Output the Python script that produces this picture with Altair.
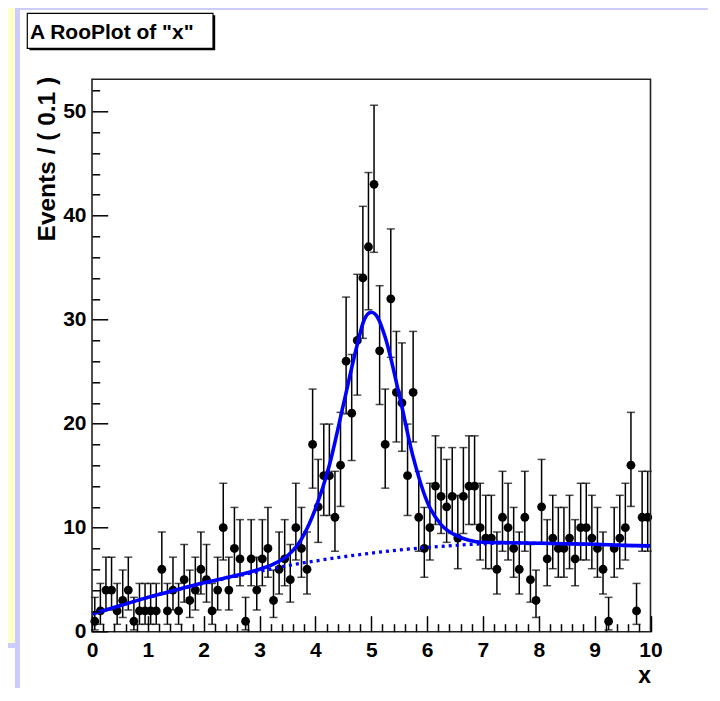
import math
import altair as alt
import pandas as pd

# ---------------- data ----------------
BIN_WIDTH = 0.1
COUNTS = [1, 2, 4, 4, 2, 3, 4, 1, 2, 2, 2, 2, 6, 2, 4, 2, 5, 3, 4, 6,
          5, 2, 4, 10, 4, 8, 7, 1, 7, 4, 7, 8, 3, 6, 7, 5, 10, 8, 6, 18,
          12, 15, 15, 11, 16, 26, 21, 28, 34, 37, 43, 27, 18, 32, 23, 22, 15, 23, 11, 8,
          10, 14, 13, 12, 13, 9, 13, 14, 14, 10, 9, 9, 6, 11, 10, 8, 6, 11, 5, 3,
          12, 7, 9, 8, 8, 9, 7, 10, 10, 9, 8, 6, 1, 8, 9, 10, 16, 2, 11, 11]
BIN_CENTERS = [round((i + 0.5) * BIN_WIDTH, 3) for i in range(len(COUNTS))]

TOTAL_X = [0, 0.5, 1, 1.5, 2, 2.5, 3, 3.25, 3.5, 3.75, 4, 4.25, 4.5, 4.75, 4.875, 5,
           5.125, 5.25, 5.5, 5.75, 6, 6.25, 6.5, 6.75, 7, 7.5, 8, 8.5, 9, 9.5, 10]
TOTAL_Y = [1.7, 2.5, 3.3, 4.0, 4.7, 5.3, 6.0, 6.5, 7.3, 8.9, 11.8, 16.0, 21.8, 27.6, 30.0, 30.7,
           30.1, 28.3, 22.8, 16.8, 12.5, 10.3, 9.3, 8.8, 8.6, 8.55, 8.5, 8.45, 8.4, 8.3, 8.25]

BKG_X = [0, 0.5, 1, 1.5, 2, 2.5, 3, 3.5, 4, 4.5, 5, 5.5, 6, 6.5, 7, 7.5, 8, 8.5, 9, 9.5, 10]
BKG_Y = [1.7, 2.5, 3.3, 4.0, 4.65, 5.25, 5.8, 6.35, 6.8, 7.2, 7.55, 7.85, 8.1, 8.3, 8.45,
         8.55, 8.5, 8.45, 8.4, 8.3, 8.25]

X_MAJOR_TICKS = [0, 1, 2, 3, 4, 5, 6, 7, 8, 9, 10]
X_MINOR_TICKS = [round(k * 0.2, 1) for k in range(51) if k % 5 != 0]
Y_MAJOR_TICKS = [0, 10, 20, 30, 40, 50]
Y_MINOR_TICKS = [v for v in range(2, 54, 2) if v % 10 != 0]

TITLE_TEXT = 'A RooPlot of "x"'
X_TITLE = "x"
Y_TITLE = "Events / ( 0.1 )"

# ------------- Poisson 68% central intervals for the error bars -------------
ALPHA = (1 - math.erf(1 / math.sqrt(2))) / 2


def pois_cdf(k, mu):
    term = math.exp(-mu)
    s = term
    for i in range(1, k + 1):
        term *= mu / i
        s += term
    return s


def bisect(f, lo, hi):
    for _ in range(80):
        mid = 0.5 * (lo + hi)
        if f(mid) > 0:
            lo = mid
        else:
            hi = mid
    return 0.5 * (lo + hi)


def interval(n):
    up = bisect(lambda mu: pois_cdf(n, mu) - ALPHA, float(n), n + 10 * math.sqrt(n + 1) + 10)
    if n == 0:
        return 0.0, up
    lo = bisect(lambda mu: pois_cdf(n - 1, mu) - (1 - ALPHA), 0.0, float(n))
    return lo, up


los, his = zip(*[interval(n) for n in COUNTS])
data = pd.DataFrame({"x": BIN_CENTERS, "n": COUNTS, "lo": los, "hi": his})
total = pd.DataFrame({"x": TOTAL_X, "y": TOTAL_Y})
bkg = pd.DataFrame({"x": BKG_X, "y": BKG_Y})
ONE = pd.DataFrame({"k": [0]})

# ---------------- layout ----------------
W, H = 558.5, 552.4
FONT = "Liberation Sans"
XSCALE = alt.Scale(domain=[0, 10], nice=False, zero=False)
YSCALE = alt.Scale(domain=[0, 53.1], nice=False, zero=False)
BLUE = "#0000ff"
YELLOW = "#ffffcc"
LAVENDER = "#ccccff"

common_axis = dict(grid=False, domain=False, zindex=2, tickColor="black", tickWidth=1.5)

AX_X_MAJOR = alt.Axis(orient="bottom", values=X_MAJOR_TICKS, offset=-16, tickSize=16,
                      labelFont=FONT, labelFontWeight="bold", labelFontSize=21, labelColor="black",
                      labelPadding=8, labelFlush=False, labelOverlap=False, format="d",
                      title=X_TITLE, titleFont=FONT, titleFontWeight="bold", titleFontSize=23,
                      titleColor="black", titleAlign="right", titleBaseline="alphabetic",
                      titleX=W, titleY=67, **common_axis)
AX_X_MINOR = alt.Axis(orient="bottom", values=X_MINOR_TICKS, offset=-8, tickSize=8,
                      labels=False, title="", **common_axis)
AX_Y_MAJOR = alt.Axis(orient="left", values=Y_MAJOR_TICKS, offset=-15.7, tickSize=15.7,
                      labelFont=FONT, labelFontWeight="bold", labelFontSize=21, labelColor="black",
                      labelPadding=6, labelFlush=False, labelOverlap=False, format="d",
                      title=Y_TITLE, titleFont=FONT, titleFontWeight="bold", titleFontSize=24.5,
                      titleColor="black", titleAngle=270, titleAlign="right",
                      titleBaseline="alphabetic", titleX=-53.4, titleY=-3, **common_axis)
AX_Y_MINOR = alt.Axis(orient="left", values=Y_MINOR_TICKS, offset=-7.7, tickSize=7.7,
                      labels=False, title="", **common_axis)


def deco_rect(x1, y1, x2, y2, **style):
    return alt.Chart(ONE).mark_rect(**style).encode(
        x=alt.value(x1), x2=alt.value(x2), y=alt.value(y1), y2=alt.value(y2))


# page coordinates relative to the plot origin (page 92, 79.3)
lav_back = deco_rect(-92, -79.3, 547, 568.7, color=LAVENDER)
yellow = deco_rect(-92, -79.3, 541, 563.7, color=YELLOW)
lav_frame = deco_rect(-77, -74.3, 628, 621.7, color=LAVENDER)
canvas = deco_rect(-72, -69.3, 626, 621.7, color="white")
title_shadow = deco_rect(-62.5, -64, 123.2, -29, color="black")
title_box = deco_rect(-64.7, -66, 121, -31, fill="white", stroke="black", strokeWidth=1.2)
title_text = alt.Chart(ONE).mark_text(
    text=TITLE_TEXT, align="left", baseline="alphabetic", font=FONT, fontSize=21,
    fontWeight="bold", color="black").encode(x=alt.value(-62), y=alt.value(-40))

err = alt.Chart(data).mark_rule(color="black", strokeWidth=1.5).encode(
    x=alt.X("x:Q", scale=XSCALE, axis=AX_X_MAJOR),
    y=alt.Y("lo:Q", scale=YSCALE, axis=AX_Y_MAJOR),
    y2="hi:Q")
cap_lo = alt.Chart(data).mark_tick(color="black", orient="horizontal", size=8, thickness=1.5).encode(
    x=alt.X("x:Q", scale=XSCALE, axis=None), y=alt.Y("lo:Q", scale=YSCALE, axis=None))
cap_hi = alt.Chart(data).mark_tick(color="black", orient="horizontal", size=8, thickness=1.5).encode(
    x=alt.X("x:Q", scale=XSCALE, axis=None), y=alt.Y("hi:Q", scale=YSCALE, axis=None))
pts = alt.Chart(data).mark_circle(color="black", opacity=1, size=78).encode(
    x=alt.X("x:Q", scale=XSCALE, axis=AX_X_MINOR),
    y=alt.Y("n:Q", scale=YSCALE, axis=AX_Y_MINOR))

bkg_line = alt.Chart(bkg).mark_line(color=BLUE, strokeWidth=3.3, strokeDash=[3, 4],
                                    interpolate="monotone").encode(
    x=alt.X("x:Q", scale=XSCALE, axis=None), y=alt.Y("y:Q", scale=YSCALE, axis=None))
tot_line = alt.Chart(total).mark_line(color=BLUE, strokeWidth=3.6,
                                      interpolate="monotone").encode(
    x=alt.X("x:Q", scale=XSCALE, axis=None), y=alt.Y("y:Q", scale=YSCALE, axis=None))

frame = deco_rect(0, 0, W, H, fill="white", fillOpacity=0, stroke="#222222", strokeWidth=1.6)

chart = alt.layer(
    lav_back, yellow, lav_frame, canvas, title_shadow, title_box, title_text,
    err, cap_lo, cap_hi, pts, bkg_line, tot_line, frame
).resolve_axis(x="independent", y="independent").properties(
    width=W, height=H,
    autosize=alt.AutoSizeParams(type="none"),
    padding={"left": 84, "top": 71.3, "right": 57, "bottom": 56},
).configure_view(stroke="transparent", strokeWidth=0)

chart.save("out.html", embed_options={"renderer": "svg", "actions": False})
